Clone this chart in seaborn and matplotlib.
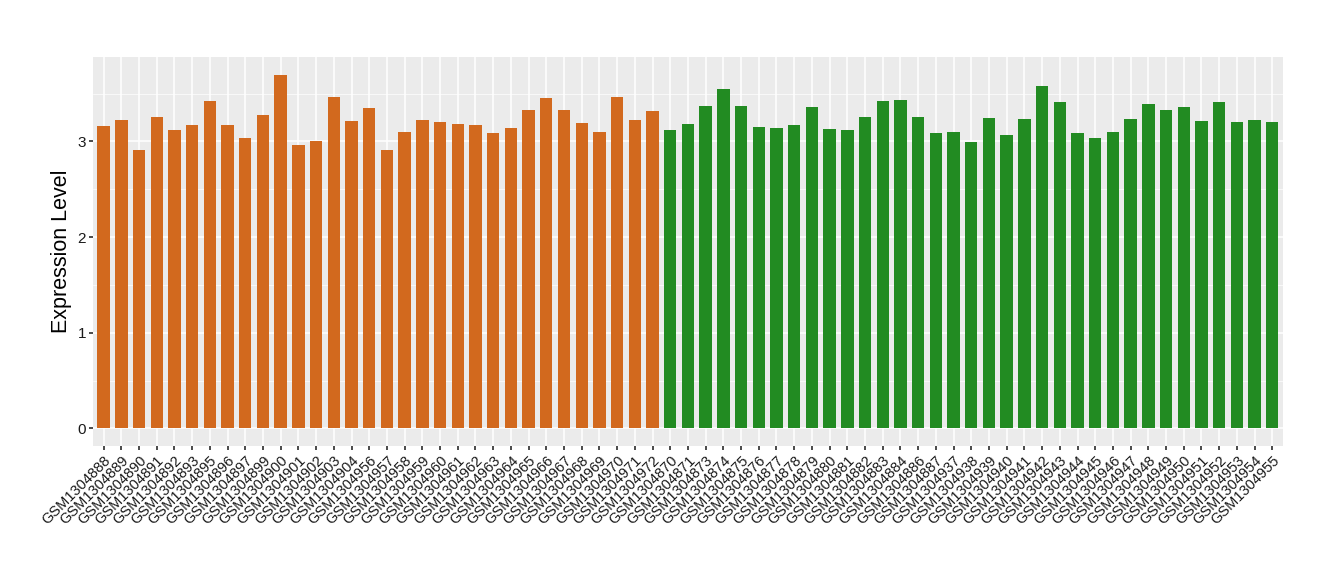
import pandas as pd
import seaborn as sns
import matplotlib.pyplot as plt
from matplotlib.ticker import MultipleLocator

# sample ids and expression values
group1_ids = ["GSM1304888", "GSM1304889", "GSM1304890", "GSM1304891", "GSM1304892",
              "GSM1304893", "GSM1304895", "GSM1304896", "GSM1304897", "GSM1304899",
              "GSM1304900", "GSM1304901", "GSM1304902", "GSM1304903", "GSM1304904",
              "GSM1304956", "GSM1304957", "GSM1304958", "GSM1304959", "GSM1304960",
              "GSM1304961", "GSM1304962", "GSM1304963", "GSM1304964", "GSM1304965",
              "GSM1304966", "GSM1304967", "GSM1304968", "GSM1304969", "GSM1304970",
              "GSM1304971", "GSM1304972"]
group1_vals = [3.16, 3.22, 2.91, 3.26, 3.12, 3.17, 3.42, 3.17, 3.04, 3.28,
               3.70, 2.96, 3.00, 3.46, 3.21, 3.35, 2.91, 3.10, 3.22, 3.20,
               3.18, 3.17, 3.09, 3.14, 3.33, 3.45, 3.33, 3.19, 3.10, 3.47,
               3.22, 3.32]

group2_ids = ["GSM1304870", "GSM1304871", "GSM1304873", "GSM1304874", "GSM1304875",
              "GSM1304876", "GSM1304877", "GSM1304878", "GSM1304879", "GSM1304880",
              "GSM1304881", "GSM1304882", "GSM1304883", "GSM1304884", "GSM1304886",
              "GSM1304887", "GSM1304937", "GSM1304938", "GSM1304939", "GSM1304940",
              "GSM1304941", "GSM1304942", "GSM1304943", "GSM1304944", "GSM1304945",
              "GSM1304946", "GSM1304947", "GSM1304948", "GSM1304949", "GSM1304950",
              "GSM1304951", "GSM1304952", "GSM1304953", "GSM1304954", "GSM1304955"]
group2_vals = [3.12, 3.18, 3.37, 3.55, 3.37, 3.15, 3.14, 3.17, 3.36, 3.13,
               3.12, 3.26, 3.42, 3.43, 3.26, 3.09, 3.10, 2.99, 3.25, 3.07,
               3.23, 3.58, 3.41, 3.09, 3.04, 3.10, 3.23, 3.39, 3.33, 3.36,
               3.21, 3.41, 3.20, 3.22, 3.20]

group_colors = {"g1": "#D2691E", "g2": "#228B22"}

df = pd.DataFrame({
    "sample": group1_ids + group2_ids,
    "value": group1_vals + group2_vals,
    "group": ["g1"] * len(group1_ids) + ["g2"] * len(group2_ids),
})

sns.set_theme(style="darkgrid")
plt.rcParams["font.family"] = ["Liberation Sans", "DejaVu Sans"]

fig = plt.figure(figsize=(13.4, 5.8), dpi=100)
ax = fig.add_axes([0.0694, 0.231, 0.888, 0.671])
ax.set_facecolor("#EBEBEB")

sns.barplot(data=df, x="sample", y="value", hue="group", palette=group_colors,
            dodge=False, width=0.7, legend=False, ax=ax, saturation=1,
            linewidth=0)

n = len(df)
ax.set_xlim(-0.6, n - 1 + 0.6)
ymax = df["value"].max()
ax.set_ylim(-0.05 * ymax, ymax * 1.05)

ax.yaxis.set_major_locator(MultipleLocator(1))
ax.yaxis.set_minor_locator(MultipleLocator(0.5))
ax.grid(True, which="major", color="white", linewidth=1.1)
ax.grid(True, which="minor", axis="y", color="white", linewidth=0.5)
ax.set_axisbelow(True)
for s in ax.spines.values():
    s.set_visible(False)

ax.tick_params(axis="both", which="major", length=3, color="#333333",
               labelcolor="#1a1a1a", pad=2, bottom=True, left=True)
ax.tick_params(axis="x", labelsize=10.5)
ax.tick_params(axis="y", labelsize=11)
ax.tick_params(axis="y", which="minor", length=0)
plt.setp(ax.get_xticklabels(), rotation=45, ha="right", va="top",
         rotation_mode="anchor")
ax.set_xlabel("")
ax.set_ylabel("Expression Level", fontsize=15.5, labelpad=4, color="black")

fig.savefig("out.png", dpi=100)
